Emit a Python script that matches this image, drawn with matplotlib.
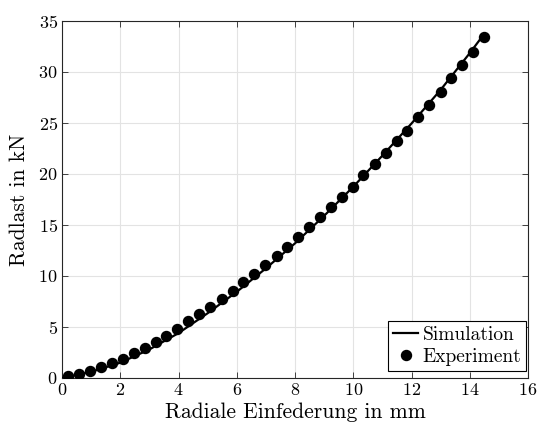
import matplotlib
matplotlib.use("Agg")
import matplotlib.pyplot as plt

# Experiment: radial deflection (mm) vs. wheel load (kN)
exp_x = [0.21, 0.57, 0.95, 1.33, 1.72, 2.10, 2.47, 2.86, 3.23, 3.58,
         3.96, 4.34, 4.70, 5.08, 5.48, 5.86, 6.22, 6.60, 6.98, 7.37,
         7.74, 8.11, 8.48, 8.86, 9.24, 9.61, 9.98, 10.35, 10.75, 11.12,
         11.49, 11.86, 12.23, 12.61, 13.00, 13.36, 13.73, 14.12, 14.50]
exp_y = [0.15, 0.35, 0.72, 1.05, 1.45, 1.90, 2.45, 2.97, 3.53, 4.15,
         4.77, 5.55, 6.27, 6.99, 7.72, 8.56, 9.38, 10.20, 11.08, 11.96,
         12.84, 13.82, 14.77, 15.75, 16.74, 17.72, 18.75, 19.90, 20.95, 22.09,
         23.24, 24.25, 25.56, 26.76, 28.01, 29.44, 30.66, 31.99, 33.45]

# Simulation curve
sim_x = [0, 1, 2, 3, 4, 5, 6, 7, 8, 9, 10, 11, 12, 13, 14, 14.5]
sim_y = [0, 0.6, 1.5, 2.8, 4.4, 6.35, 8.45, 10.75, 13.2, 15.9, 18.75,
         21.8, 24.95, 28.25, 31.85, 33.75]

plt.rcParams["font.family"] = ["cmr10", "DejaVu Serif"]
plt.rcParams["mathtext.fontset"] = "cm"
plt.rcParams["axes.formatter.use_mathtext"] = True

fig = plt.figure(figsize=(5.41, 4.29), dpi=100)
ax = fig.add_axes([62 / 541, 1 - 378 / 429, (528 - 62) / 541, (378 - 21) / 429])

ax.plot(sim_x, sim_y, color="black", lw=1.6, label="Simulation", zorder=3)
ax.plot(exp_x, exp_y, "o", color="black", ms=7.2, label="Experiment",
        linestyle="none", zorder=4)

ax.set_xlim(0, 16)
ax.set_ylim(0, 35)
ax.set_xticks(range(0, 17, 2))
ax.set_yticks(range(0, 36, 5))
ax.grid(True, color="#e3e3e3", lw=0.8)
ax.set_axisbelow(True)

for s in ax.spines.values():
    s.set_color("#262626")
    s.set_linewidth(0.8)
ax.tick_params(direction="in", top=True, right=True, length=4,
               width=0.6, color="#262626", labelsize=13, pad=3)

ax.set_xlabel("Radiale Einfederung in mm", fontsize=15.5, labelpad=3)
ax.set_ylabel("Radlast in kN", fontsize=15.5, labelpad=7)

leg = ax.legend(loc="lower right", bbox_to_anchor=(1 - 2 / 466, 7 / 357),
                fontsize=14, frameon=True, fancybox=False,
                edgecolor="black", framealpha=1, handlelength=1.3,
                handletextpad=0.2, borderpad=0.25, labelspacing=0.2,
                borderaxespad=0.0)
leg.get_frame().set_linewidth(0.8)

fig.savefig("out.png", dpi=100)
